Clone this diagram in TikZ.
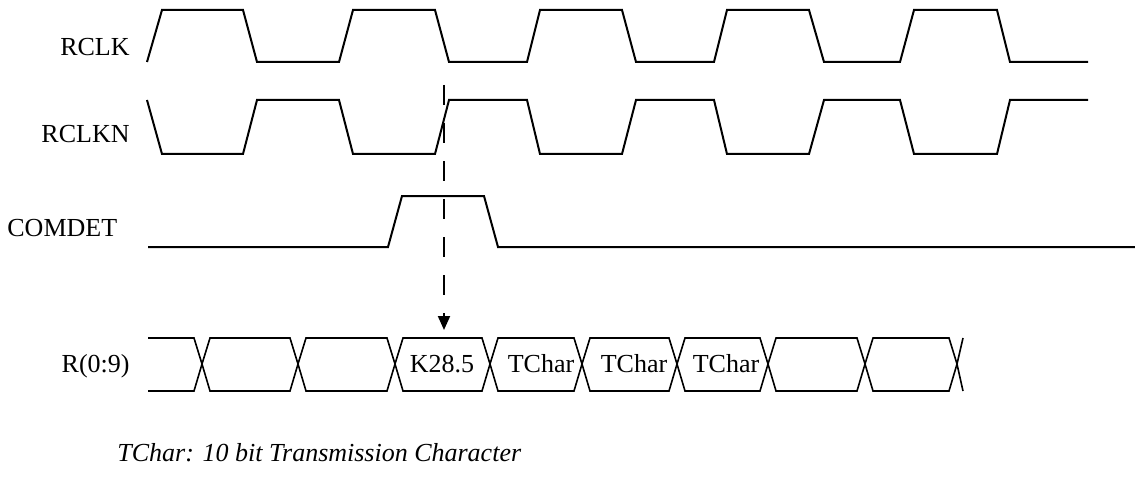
\documentclass[tikz,border=0pt]{standalone}
\usepackage{fontspec}
\setmainfont{Liberation Serif}
\usetikzlibrary{arrows.meta}

\begin{document}
\begin{tikzpicture}[x=0.5pt,y=-0.5pt,
  sig/.style={line width=1pt,line join=miter},
  bus/.style={line width=0.8pt},
  lbl/.style={font=\fontsize{13}{15}\selectfont,inner sep=0pt}]
  \useasboundingbox (0,0) rectangle (1135,481);
  % signal names
  \node[lbl,anchor=base east] (nRclk) at (130,56) {RCLK};
  \node[lbl,anchor=base east] (nRclkn) at (130,142) {RCLKN};
  \node[lbl,anchor=base west] (nComdet) at (7,236) {COMDET};
  \node[lbl,anchor=base east] (nBus) at (130,372) {R(0:9)};
  % RCLK
  \draw[sig] (147,62) -- (162,10) -- (243,10) -- (257,62) -- (339,62) -- (353,10)
    -- (435,10) -- (449,62) -- (527,62) -- (540,10) -- (622,10) -- (636,62)
    -- (714,62) -- (727,10) -- (809,10) -- (824,62) -- (900,62) -- (914,10)
    -- (997,10) -- (1010,62) -- (1088,62);
  % RCLKN
  \draw[sig] (147,100) -- (162,154) -- (243,154) -- (257,100) -- (339,100) -- (353,154)
    -- (435,154) -- (449,100) -- (527,100) -- (540,154) -- (622,154) -- (636,100)
    -- (714,100) -- (727,154) -- (809,154) -- (824,100) -- (900,100) -- (914,154)
    -- (997,154) -- (1010,100) -- (1088,100);
  % COMDET
  \draw[sig] (148,247) -- (388,247) -- (402,196) -- (484,196) -- (498,247) -- (1135,247);
  % R(0:9)
  \draw[bus] (148,338) -- (194,338) -- (202,364) -- (194,391) -- (148,391);
  \foreach \a/\b in {202/298,298/395,395/490,490/582,582/677,677/768,768/865,865/957}
    \draw[bus] (\a,364) -- (\a+8,338) -- (\b-8,338) -- (\b,364) -- (\b-8,391) -- (\a+8,391) -- cycle;
  \draw[bus] (963,338) -- (957,364) -- (963,391);
  \node[lbl,anchor=base] (dK) at (442,372) {K28.5};
  \node[lbl,anchor=base] (dT1) at (541,372) {TChar};
  \node[lbl,anchor=base] (dT2) at (634,372) {TChar};
  \node[lbl,anchor=base] (dT3) at (726,372) {TChar};
  % sampling point
  \coordinate (pTop) at (444,85);
  \coordinate (pK) at (444,330);
  \draw[line width=1pt,dash pattern=on 10pt off 9pt,-{Triangle[length=7pt,width=6pt]}] (pTop) -- (pK);
  % note
  \node[lbl,anchor=base west,font=\fontsize{13}{15}\selectfont\itshape] (nNote) at (117,461)
    {TChar: 10 bit Transmission Character};
\end{tikzpicture}
\end{document}
